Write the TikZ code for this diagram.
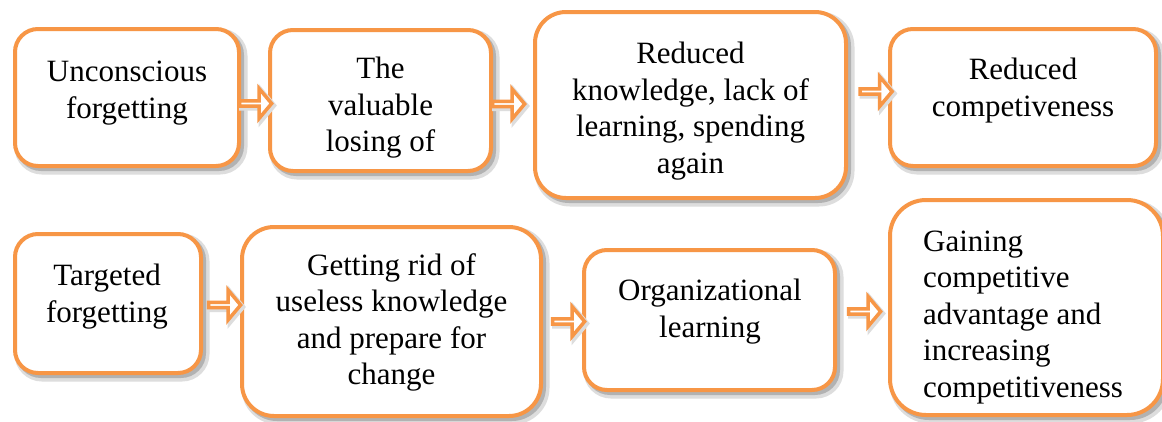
\documentclass[tikz,border=0pt]{standalone}
\usepackage{fontspec}
\setmainfont{Liberation Serif}
\newfontfamily\tnrfont{Liberation Serif}
\usetikzlibrary{shapes.arrows}
\definecolor{accorange}{HTML}{F79646}
\definecolor{shadowouter}{HTML}{DDDDDD}
\definecolor{shadowinner}{HTML}{B2B2B2}
\begin{document}
\begin{tikzpicture}[x=1pt,y=-1pt,
  softshadow/.style={
    preaction={draw=shadowouter, line width=9pt, fill=shadowouter, transform canvas={shift={(4pt,-4pt)}}},
    preaction={draw=shadowinner, line width=4pt, fill=shadowinner, transform canvas={shift={(3pt,-3pt)}}}},
  box/.style={softshadow, draw=accorange, line width=4pt, fill=white, rectangle, inner sep=0pt},
  txt/.style={inner sep=0pt, align=center, font=\tnrfont\fontsize{31}{36.5}\selectfont},
  blockarrow/.style={single arrow, draw=accorange, line width=3.5pt, fill=white,
    inner sep=0pt, minimum width=30pt, minimum height=32pt,
    single arrow head extend=8pt, single arrow tip angle=100,
    preaction={draw=shadowouter, line width=5pt, fill=shadowouter, transform canvas={shift={(2pt,-2pt)}}}}]
\useasboundingbox (0,0) rectangle (1162,421);
\fill[white] (0,0) rectangle (1162,421);
% boxes
\node[box, minimum width=224pt, minimum height=137pt, rounded corners=23pt] (b1) at (127,97.5) {};
\node[box, minimum width=221pt, minimum height=141pt, rounded corners=23pt] (b2) at (380.5,100.5) {};
\node[box, minimum width=311pt, minimum height=186pt, rounded corners=31pt] (b3) at (690.5,105) {};
\node[box, minimum width=266pt, minimum height=137pt, rounded corners=23pt] (b4) at (1023,97.5) {};
\node[box, minimum width=186pt, minimum height=139pt, rounded corners=23pt] (b5) at (108,303.5) {};
\node[box, minimum width=299pt, minimum height=189pt, rounded corners=32pt] (b6) at (391.5,321.5) {};
\node[box, minimum width=251pt, minimum height=140pt, rounded corners=23pt] (b7) at (709.5,320) {};
\node[box, minimum width=273pt, minimum height=215pt, rounded corners=36pt] (b8) at (1026.5,307.5) {};
% texts
\node[txt] (t1) at (127,93) {Unconscious\\forgetting};
\node[txt] (t2) at (380.5,108) {The\\valuable\\losing of};
\node[txt] (t3) at (690.5,111) {Reduced\\knowledge, lack of\\learning, spending\\again};
\node[txt] (t4) at (1023,90.5) {Reduced\\competiveness};
\node[txt] (t5) at (107,296.5) {Targeted\\forgetting};
\node[txt] (t6) at (391.5,322.5) {Getting rid of\\useless knowledge\\and prepare for\\change};
\node[txt] (t7) at (710,311.5) {Organizational\\learning};
\node[txt, align=left, anchor=west] (t8) at (923,317.5) {Gaining\\competitive\\advantage and\\increasing\\competitiveness};
% block arrows
\node[blockarrow] (a1) at (254.5,103.5) {};
\node[blockarrow] (a2) at (507.5,104) {};
\node[blockarrow] (a3) at (875,91.5) {};
\node[blockarrow] (a4) at (223.5,305) {};
\node[blockarrow] (a5) at (567.5,321.5) {};
\node[blockarrow] (a6) at (863.5,311.5) {};
\end{tikzpicture}
\end{document}
